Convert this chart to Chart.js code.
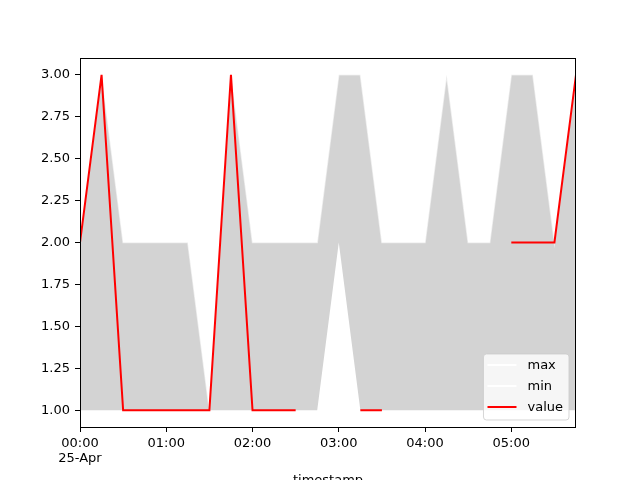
<!DOCTYPE html>
<html>
<head>
<meta charset="utf-8">
<script src="https://cdn.jsdelivr.net/npm/chart.js@4.4.1/dist/chart.umd.min.js"></script>
<style>
html,body{margin:0;padding:0;background:#ffffff;}
canvas{display:block;}
</style>
</head>
<body>
<canvas id="c" width="640" height="480"></canvas>
<script>
// ---- data ----
const timestamps = ['00:00','00:15','00:30','00:45','01:00','01:15','01:30','01:45',
                    '02:00','02:15','02:30','02:45','03:00','03:15','03:30','03:45',
                    '04:00','04:15','04:30','04:45','05:00','05:15','05:30','05:45'];
const maxValues   = [2,3,2,2,2,2,1,3,2,2,2,2,3,3,2,2,2,3,2,2,3,3,2,3];
const minValues   = [1,1,1,1,1,1,1,1,1,1,1,1,2,1,1,1,1,1,1,1,1,1,1,1];
const valueValues = [2,3,1,1,1,1,1,3,1,1,1,null,null,1,1,null,null,null,null,null,2,2,2,3];
const seriesLabels = ['max','min','value'];
const xTickMinutes = [0,60,120,180,240,300];
const xTickLabels  = [['00:00','25-Apr'],'01:00','02:00','03:00','04:00','05:00'];
const yTicks = [1.00,1.25,1.50,1.75,2.00,2.25,2.50,2.75,3.00];
const xTitle = 'timestamp';

function toMinutes(t){ const p = t.split(':'); return (+p[0])*60 + (+p[1]); }
function pts(vals){ return timestamps.map((t,i)=>({x:toMinutes(t), y:vals[i]})); }

const FONT = "'DejaVu Sans', sans-serif";
const colors = {max:'rgba(255,255,255,0.55)', min:'rgba(255,255,255,0.55)', value:'#ff0000'};
const legendColors = ['#ffffff','#ffffff','#ff0000'];

const framePlugin = {
  id:'frame',
  afterDatasetsDraw(chart){
    const ctx = chart.ctx, a = chart.chartArea;
    ctx.save();
    ctx.strokeStyle = '#000';
    ctx.lineWidth = 1;
    ctx.strokeRect(Math.round(a.left)+0.5, Math.round(a.top)+0.5,
                   Math.round(a.right-a.left)-1, Math.round(a.bottom-a.top));
    // legend
    ctx.font = "13px " + FONT;
    const tw = Math.max(...seriesLabels.map(s=>ctx.measureText(s).width));
    const w = 44 + tw + 6;
    const h = 66;
    const right = a.right - 7, bottom = a.bottom - 7;
    const x0 = right - w, y0 = bottom - h;
    const r = 3;
    ctx.beginPath();
    ctx.moveTo(x0+r,y0);
    ctx.lineTo(x0+w-r,y0); ctx.quadraticCurveTo(x0+w,y0,x0+w,y0+r);
    ctx.lineTo(x0+w,y0+h-r); ctx.quadraticCurveTo(x0+w,y0+h,x0+w-r,y0+h);
    ctx.lineTo(x0+r,y0+h); ctx.quadraticCurveTo(x0,y0+h,x0,y0+h-r);
    ctx.lineTo(x0,y0+r); ctx.quadraticCurveTo(x0,y0,x0+r,y0);
    ctx.closePath();
    ctx.fillStyle = 'rgba(255,255,255,0.8)';
    ctx.fill();
    ctx.strokeStyle = 'rgba(204,204,204,0.8)';
    ctx.stroke();
    seriesLabels.forEach((lab,i)=>{
      const yy = y0 + 11 + i*21;
      ctx.beginPath();
      ctx.moveTo(x0+4, yy); ctx.lineTo(x0+33, yy);
      ctx.strokeStyle = legendColors[i];
      ctx.lineWidth = 2;
      ctx.stroke();
      ctx.fillStyle = '#000';
      ctx.textBaseline = 'middle';
      ctx.textAlign = 'left';
      ctx.fillText(lab, x0+44, yy+1);
    });
    ctx.restore();
  },
  afterDraw(chart){
    const ctx = chart.ctx, a = chart.chartArea;
    ctx.save();
    ctx.font = "13px " + FONT;
    ctx.fillStyle = '#000';
    ctx.textAlign = 'center';
    ctx.textBaseline = 'alphabetic';
    ctx.fillText(xTitle, (a.left+a.right)/2, 484);
    ctx.restore();
  }
};

new Chart(document.getElementById('c'), {
  type:'line',
  data:{
    datasets:[
      {label:seriesLabels[0], data:pts(maxValues), borderColor:colors.max, borderWidth:1.5,
       backgroundColor:'#d3d3d3', fill:'+1', pointRadius:0, tension:0, order:1},
      {label:seriesLabels[1], data:pts(minValues), borderColor:colors.min, borderWidth:1.5,
       fill:false, pointRadius:0, tension:0, order:2},
      {label:seriesLabels[2], data:pts(valueValues), borderColor:colors.value, borderWidth:2,
       fill:false, pointRadius:0, tension:0, spanGaps:false, order:0}
    ]
  },
  options:{
    responsive:false,
    animation:false,
    events:[],
    layout:{padding:{top:58, right:64, left:0, bottom:0}},
    plugins:{legend:{display:false}, tooltip:{enabled:false}},
    scales:{
      x:{
        type:'linear', min:0, max:345,
        afterFit(s){ s.height = 53; },
        afterBuildTicks(s){ s.ticks = xTickMinutes.map(v=>({value:v})); },
        grid:{display:true, drawOnChartArea:false, drawTicks:true, tickLength:5, color:'#000', lineWidth:1},
        border:{display:false},
        ticks:{padding:4, color:'#000', maxRotation:0, autoSkip:false,
               font:{family:FONT, size:13, lineHeight:1.15},
               callback(v){ const i = xTickMinutes.indexOf(v); return i>=0 ? xTickLabels[i] : ''; }}
      },
      y:{
        type:'linear', min:0.9, max:3.1,
        afterFit(s){ s.width = 80; },
        afterBuildTicks(s){ s.ticks = yTicks.map(v=>({value:v})); },
        grid:{display:true, drawOnChartArea:false, drawTicks:true, tickLength:5, color:'#000', lineWidth:1},
        border:{display:false},
        ticks:{padding:5, color:'#000', autoSkip:false,
               font:{family:FONT, size:13},
               callback(v){ return Number(v).toFixed(2); }}
      }
    }
  },
  plugins:[framePlugin]
});
</script>
</body>
</html>
